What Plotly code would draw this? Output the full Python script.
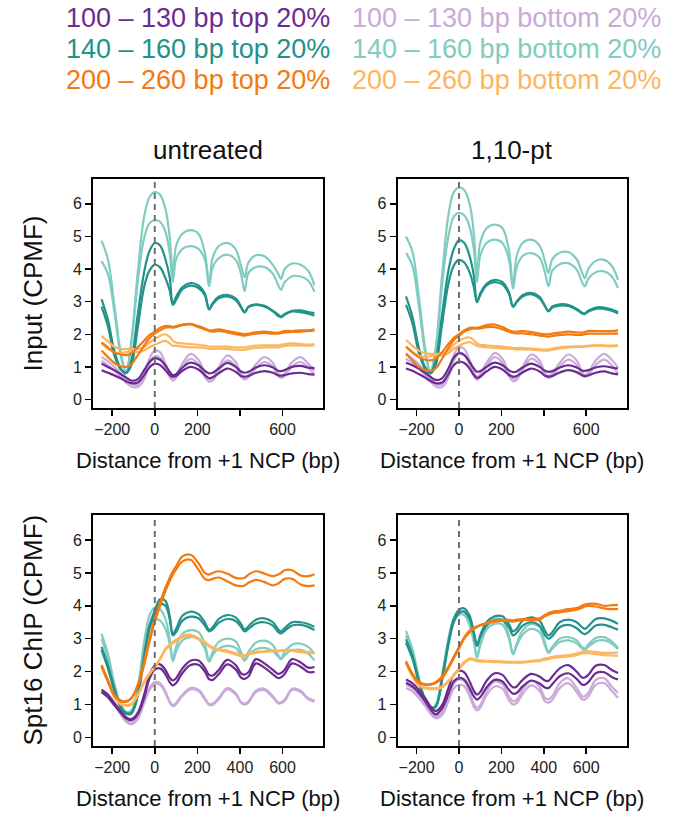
import plotly.graph_objects as go

# common x grid (bp from +1 NCP)
X = [-250, -220, -190, -160, -135, -110, -80, -50, -25, 0, 25, 50, 70, 85, 100, 130, 168, 205, 235, 255,
     272, 300, 340, 380, 405, 422, 440, 475, 515, 555, 580, 593, 610, 645, 685, 720, 750]

SERIES = ["100 – 130 bp top 20%", "100 – 130 bp bottom 20%",
          "140 – 160 bp top 20%", "140 – 160 bp bottom 20%",
          "200 – 260 bp top 20%", "200 – 260 bp bottom 20%"]
COLORS = ["#6B2C91", "#C9AAD8", "#22928A", "#80CCC0", "#F27A10", "#FDB660"]

# ---------------- Input, untreated (top-left) ----------------
TL_T100_1 = [1.1,1.0,0.9,0.78,0.68,0.58,0.62,0.9,1.15,1.27,1.22,1.05,0.85,0.75,0.78,0.98,1.13,1.05,0.88,0.8,0.82,0.95,1.12,1.0,0.86,0.82,0.85,0.98,1.05,0.98,0.88,0.87,0.9,1.0,1.03,0.98,0.96]
TL_T100_2 = [0.9,0.82,0.74,0.65,0.56,0.5,0.52,0.75,0.98,1.1,1.06,0.9,0.75,0.7,0.72,0.88,1.0,0.92,0.75,0.66,0.68,0.8,0.95,0.85,0.72,0.7,0.72,0.82,0.87,0.82,0.74,0.73,0.75,0.8,0.82,0.78,0.76]
TL_B100_1 = [1.3,1.18,1.0,0.8,0.62,0.48,0.45,0.75,1.25,1.5,1.45,1.1,0.8,0.66,0.75,1.1,1.4,1.22,0.8,0.6,0.65,0.98,1.35,1.15,0.78,0.68,0.75,1.08,1.3,1.12,0.8,0.72,0.8,1.15,1.3,1.1,0.88]
TL_B100_2 = [1.18,1.05,0.88,0.7,0.52,0.4,0.38,0.62,1.08,1.33,1.28,0.98,0.7,0.58,0.66,0.98,1.25,1.08,0.7,0.55,0.58,0.88,1.2,1.02,0.7,0.62,0.68,0.96,1.15,1.0,0.72,0.66,0.72,1.02,1.15,0.98,0.76]
TL_T140_1 = [3.08,2.45,1.5,0.95,0.8,1.2,2.6,3.9,4.55,4.8,4.72,4.3,3.75,2.95,3.15,3.45,3.57,3.5,3.25,2.78,2.95,3.15,3.21,3.1,2.85,2.68,2.85,2.92,2.87,2.72,2.6,2.54,2.62,2.72,2.73,2.68,2.65]
TL_T140_2 = [2.85,2.25,1.35,0.92,0.82,1.05,2.2,3.45,3.95,4.13,4.05,3.72,3.35,2.9,3.05,3.38,3.49,3.42,3.2,2.76,2.92,3.1,3.16,3.05,2.82,2.67,2.83,2.9,2.85,2.7,2.56,2.52,2.6,2.7,2.68,2.63,2.57]
TL_B140_1 = [4.87,4.3,2.9,1.45,0.85,1.8,3.9,5.6,6.2,6.36,6.28,5.85,5.0,3.85,4.7,5.08,5.19,5.08,4.5,3.6,4.35,4.7,4.8,4.6,4.1,3.75,4.2,4.42,4.39,4.12,3.85,3.7,4.0,4.17,4.13,3.95,3.5]
TL_B140_2 = [4.24,3.85,2.7,1.35,0.82,1.7,3.6,4.95,5.4,5.5,5.45,5.15,4.5,3.6,4.3,4.62,4.7,4.62,4.3,3.47,4.05,4.33,4.44,4.28,3.85,3.32,3.88,4.06,4.06,3.85,3.5,3.36,3.6,3.78,3.77,3.65,3.3]
TL_T200_1 = [1.75,1.6,1.45,1.38,1.36,1.42,1.6,1.8,1.98,2.08,2.2,2.25,2.25,2.22,2.25,2.3,2.32,2.25,2.18,2.12,2.12,2.15,2.1,2.05,2.02,2.0,2.02,2.06,2.08,2.05,2.05,2.07,2.1,2.1,2.12,2.12,2.15]
TL_T200_2 = [1.5,1.3,1.12,1.02,1.0,1.08,1.35,1.65,1.88,2.02,2.12,2.2,2.22,2.2,2.22,2.28,2.3,2.22,2.15,2.1,2.08,2.1,2.06,2.0,1.97,1.96,1.98,2.02,2.04,2.02,2.02,2.04,2.06,2.07,2.08,2.1,2.12]
TL_B200_1 = [1.95,1.78,1.62,1.55,1.55,1.55,1.55,1.6,1.75,1.85,1.95,2.0,1.92,1.8,1.75,1.72,1.7,1.68,1.65,1.62,1.62,1.62,1.62,1.6,1.6,1.6,1.62,1.65,1.66,1.66,1.66,1.68,1.7,1.72,1.7,1.68,1.7]
TL_B200_2 = [1.72,1.55,1.45,1.42,1.45,1.5,1.45,1.5,1.6,1.68,1.75,1.8,1.72,1.65,1.65,1.62,1.6,1.6,1.58,1.55,1.55,1.56,1.55,1.53,1.52,1.52,1.55,1.58,1.6,1.6,1.6,1.62,1.64,1.66,1.66,1.65,1.67]

# ---------------- Input, 1,10-pt (top-right) ----------------
TR_T100_1 = [1.13,1.05,0.95,0.82,0.7,0.6,0.65,0.95,1.28,1.42,1.36,1.15,0.95,0.85,0.87,1.0,1.13,1.05,0.9,0.84,0.86,0.98,1.1,1.0,0.88,0.85,0.87,0.98,1.05,0.98,0.89,0.88,0.9,0.98,1.02,0.98,0.95]
TR_T100_2 = [0.95,0.88,0.78,0.67,0.57,0.5,0.52,0.78,1.05,1.16,1.12,0.95,0.75,0.66,0.7,0.86,1.0,0.92,0.76,0.7,0.72,0.83,0.95,0.86,0.73,0.7,0.72,0.83,0.9,0.84,0.74,0.72,0.74,0.82,0.86,0.8,0.77]
TR_B100_1 = [1.38,1.25,1.08,0.85,0.65,0.48,0.45,0.8,1.35,1.6,1.55,1.2,0.85,0.7,0.78,1.12,1.42,1.25,0.82,0.64,0.68,1.0,1.38,1.2,0.82,0.72,0.8,1.12,1.38,1.2,0.85,0.76,0.82,1.2,1.4,1.22,0.98]
TR_B100_2 = [1.25,1.12,0.95,0.75,0.56,0.4,0.38,0.68,1.18,1.42,1.38,1.05,0.74,0.6,0.68,1.0,1.3,1.12,0.72,0.56,0.6,0.9,1.25,1.08,0.74,0.66,0.72,1.0,1.22,1.06,0.76,0.7,0.75,1.06,1.22,1.05,0.78]
TR_T140_1 = [3.16,2.55,1.6,1.0,0.82,1.2,2.6,3.95,4.6,4.88,4.8,4.4,3.8,3.0,3.25,3.55,3.67,3.6,3.3,2.86,3.0,3.2,3.27,3.15,2.88,2.72,2.85,2.92,2.9,2.78,2.66,2.64,2.72,2.82,2.82,2.76,2.68]
TR_T140_2 = [2.9,2.35,1.45,0.95,0.8,1.05,2.3,3.55,4.1,4.28,4.2,3.9,3.45,2.98,3.2,3.5,3.6,3.53,3.25,2.84,2.98,3.16,3.23,3.1,2.86,2.7,2.82,2.88,2.87,2.75,2.64,2.62,2.7,2.78,2.78,2.72,2.64]
TR_B140_1 = [5.0,4.55,3.2,1.6,0.85,1.6,3.8,5.65,6.35,6.5,6.42,6.0,5.1,3.8,4.8,5.25,5.36,5.25,4.6,3.5,4.4,4.8,4.9,4.72,4.25,3.88,4.3,4.5,4.52,4.3,3.9,3.72,4.0,4.25,4.28,4.1,3.67]
TR_B140_2 = [4.5,4.1,2.9,1.45,0.82,1.5,3.5,5.0,5.6,5.72,5.65,5.3,4.6,3.6,4.4,4.8,4.9,4.8,4.3,3.4,4.05,4.4,4.49,4.35,3.9,3.47,3.95,4.15,4.18,3.98,3.6,3.47,3.7,3.9,3.93,3.78,3.42]
TR_T200_1 = [1.62,1.45,1.3,1.22,1.2,1.25,1.45,1.7,1.88,2.0,2.12,2.2,2.2,2.2,2.22,2.28,2.3,2.22,2.12,2.08,2.08,2.1,2.07,2.02,2.0,2.0,2.02,2.05,2.08,2.06,2.05,2.07,2.1,2.1,2.1,2.1,2.12]
TR_T200_2 = [1.42,1.2,1.0,0.9,0.88,0.95,1.25,1.58,1.82,1.95,2.08,2.15,2.18,2.17,2.18,2.22,2.22,2.15,2.08,2.04,2.03,2.03,2.0,1.96,1.94,1.93,1.95,1.98,2.0,1.98,1.98,2.0,2.02,2.02,2.02,2.02,2.02]
TR_B200_1 = [1.83,1.65,1.5,1.42,1.4,1.4,1.42,1.5,1.68,1.8,1.88,1.9,1.82,1.72,1.68,1.66,1.64,1.62,1.6,1.58,1.58,1.58,1.56,1.54,1.53,1.53,1.56,1.6,1.62,1.63,1.63,1.64,1.65,1.67,1.66,1.65,1.67]
TR_B200_2 = [1.62,1.45,1.35,1.3,1.32,1.35,1.35,1.42,1.55,1.65,1.72,1.76,1.7,1.64,1.62,1.6,1.58,1.57,1.56,1.55,1.54,1.54,1.53,1.51,1.5,1.5,1.53,1.57,1.6,1.61,1.61,1.62,1.63,1.65,1.64,1.63,1.65]

# ---------------- Spt16 ChIP, untreated (bottom-left) ----------------
BL_T100_1 = [1.45,1.3,1.05,0.8,0.62,0.56,0.75,1.3,1.9,2.18,2.22,2.05,1.82,1.73,1.8,2.1,2.33,2.34,2.12,1.9,1.88,2.05,2.36,2.2,1.95,1.91,1.98,2.38,2.25,2.05,1.93,1.96,2.06,2.38,2.28,2.12,2.14]
BL_T100_2 = [1.38,1.22,0.98,0.75,0.58,0.52,0.7,1.2,1.78,2.06,2.1,1.92,1.68,1.58,1.65,1.96,2.2,2.21,2.0,1.77,1.75,1.92,2.22,2.07,1.82,1.78,1.85,2.25,2.12,1.92,1.8,1.83,1.93,2.25,2.15,1.99,1.99]
BL_B100_1 = [1.43,1.3,1.05,0.75,0.52,0.43,0.6,1.1,1.5,1.68,1.65,1.4,1.1,0.98,1.05,1.3,1.5,1.45,1.2,1.02,1.02,1.2,1.5,1.35,1.08,1.03,1.1,1.42,1.48,1.25,1.06,1.07,1.15,1.48,1.42,1.2,1.12]
BL_B100_2 = [1.4,1.26,1.0,0.7,0.48,0.4,0.56,1.04,1.44,1.62,1.6,1.35,1.06,0.95,1.01,1.26,1.46,1.41,1.16,0.99,0.99,1.16,1.46,1.31,1.05,1.0,1.06,1.38,1.44,1.21,1.03,1.04,1.11,1.44,1.38,1.16,1.09]
BL_T140_1 = [2.75,2.2,1.5,0.95,0.75,0.75,1.3,2.5,3.4,3.85,4.2,4.15,3.7,3.15,3.3,3.7,3.82,3.75,3.5,3.27,3.35,3.6,3.72,3.65,3.45,3.28,3.38,3.58,3.62,3.5,3.28,3.22,3.32,3.5,3.5,3.45,3.36]
BL_T140_2 = [2.65,2.1,1.42,0.9,0.72,0.72,1.25,2.4,3.3,3.75,4.05,4.0,3.6,3.1,3.2,3.55,3.67,3.62,3.4,3.22,3.28,3.48,3.6,3.54,3.36,3.22,3.3,3.46,3.5,3.4,3.2,3.16,3.24,3.4,3.42,3.36,3.26]
BL_B140_1 = [3.15,2.55,1.65,1.0,0.78,0.82,1.5,2.9,3.7,3.95,3.9,3.6,3.0,2.38,2.75,3.15,3.26,3.2,2.85,2.35,2.6,2.9,3.0,2.92,2.6,2.36,2.6,2.88,2.94,2.8,2.5,2.4,2.6,2.82,2.85,2.75,2.55]
BL_B140_2 = [3.0,2.4,1.55,0.95,0.75,0.8,1.4,2.7,3.4,3.6,3.55,3.3,2.85,2.32,2.6,2.95,3.05,3.0,2.7,2.3,2.5,2.7,2.78,2.72,2.5,2.33,2.5,2.68,2.72,2.62,2.45,2.38,2.5,2.65,2.66,2.55,2.34]
BL_T200_1 = [2.2,1.75,1.3,1.12,1.1,1.2,1.6,2.3,3.0,3.6,4.1,4.55,4.85,5.05,5.2,5.5,5.55,5.3,5.0,4.95,5.0,5.05,4.98,4.85,4.83,4.85,4.95,5.05,4.98,4.9,4.95,5.0,5.08,5.08,4.92,4.9,4.96]
BL_T200_2 = [2.15,1.7,1.28,1.1,1.08,1.18,1.55,2.2,2.9,3.5,4.0,4.45,4.75,4.95,5.1,5.35,5.4,5.1,4.82,4.78,4.82,4.86,4.75,4.62,4.6,4.62,4.7,4.79,4.72,4.62,4.68,4.74,4.82,4.82,4.65,4.6,4.62]
BL_B200_1 = [2.2,1.72,1.25,1.02,0.98,1.02,1.3,1.7,1.95,2.15,2.4,2.7,2.82,2.9,2.97,3.08,3.12,3.02,2.9,2.8,2.74,2.68,2.64,2.56,2.5,2.5,2.55,2.6,2.62,2.65,2.64,2.65,2.66,2.66,2.62,2.6,2.58]
BL_B200_2 = [2.17,1.7,1.22,1.0,0.96,1.0,1.27,1.66,1.92,2.12,2.37,2.66,2.78,2.86,2.93,3.04,3.08,2.99,2.87,2.77,2.71,2.65,2.6,2.52,2.47,2.47,2.52,2.57,2.6,2.62,2.62,2.63,2.64,2.63,2.59,2.57,2.55]

# ---------------- Spt16 ChIP, 1,10-pt (bottom-right) ----------------
BR_T100_1 = [1.76,1.65,1.45,1.2,0.95,0.8,0.98,1.5,1.9,2.03,1.98,1.7,1.42,1.3,1.38,1.72,1.95,1.9,1.65,1.52,1.55,1.75,1.93,1.85,1.73,1.72,1.85,2.1,2.2,2.0,1.82,1.82,1.9,2.18,2.2,2.05,1.96]
BR_T100_2 = [1.66,1.55,1.36,1.1,0.86,0.7,0.88,1.32,1.7,1.81,1.76,1.5,1.25,1.15,1.22,1.52,1.75,1.7,1.45,1.33,1.35,1.55,1.73,1.64,1.52,1.5,1.62,1.86,1.95,1.78,1.61,1.6,1.68,1.95,1.98,1.84,1.76]
BR_B100_1 = [1.6,1.5,1.3,1.05,0.8,0.64,0.75,1.2,1.62,1.76,1.7,1.38,1.02,0.9,0.98,1.4,1.7,1.62,1.25,1.1,1.14,1.45,1.72,1.55,1.2,1.16,1.25,1.65,1.8,1.5,1.26,1.25,1.35,1.75,1.8,1.55,1.35]
BR_B100_2 = [1.5,1.4,1.2,0.96,0.73,0.58,0.68,1.1,1.48,1.6,1.55,1.25,0.93,0.82,0.9,1.28,1.55,1.48,1.14,1.0,1.04,1.32,1.58,1.42,1.1,1.06,1.14,1.5,1.65,1.38,1.16,1.15,1.24,1.6,1.65,1.42,1.2]
BR_T140_1 = [2.98,2.5,1.75,1.15,0.92,0.95,1.8,2.9,3.6,3.88,3.92,3.7,3.2,2.8,3.1,3.5,3.68,3.68,3.45,3.22,3.3,3.55,3.65,3.55,3.25,3.1,3.2,3.5,3.58,3.5,3.35,3.3,3.38,3.6,3.62,3.55,3.45]
BR_T140_2 = [2.88,2.4,1.68,1.1,0.9,0.92,1.72,2.8,3.5,3.78,3.82,3.6,3.15,2.78,3.05,3.4,3.56,3.56,3.35,3.1,3.18,3.4,3.5,3.4,3.12,3.0,3.08,3.35,3.42,3.32,3.18,3.14,3.2,3.4,3.42,3.35,3.27]
BR_B140_1 = [3.24,2.7,1.85,1.15,0.88,0.98,1.9,3.0,3.6,3.83,3.82,3.5,2.95,2.45,2.85,3.4,3.6,3.58,3.1,2.55,2.85,3.25,3.45,3.35,2.9,2.6,2.75,3.0,3.05,2.95,2.75,2.7,2.82,3.02,3.05,2.92,2.72]
BR_B140_2 = [3.09,2.6,1.78,1.1,0.85,0.95,1.8,2.9,3.5,3.73,3.72,3.4,2.9,2.42,2.78,3.28,3.45,3.43,3.0,2.52,2.78,3.12,3.3,3.2,2.8,2.57,2.7,2.9,2.95,2.86,2.7,2.66,2.76,2.92,2.95,2.85,2.68]
BR_T200_1 = [2.32,1.95,1.7,1.62,1.62,1.68,1.85,2.15,2.45,2.75,3.05,3.25,3.33,3.38,3.42,3.48,3.55,3.58,3.57,3.56,3.58,3.6,3.6,3.62,3.72,3.78,3.82,3.85,3.9,3.93,4.0,4.04,4.06,4.06,4.0,4.02,4.03]
BR_T200_2 = [2.28,1.9,1.66,1.6,1.6,1.65,1.8,2.1,2.4,2.7,3.0,3.2,3.3,3.35,3.4,3.46,3.52,3.54,3.54,3.52,3.54,3.57,3.56,3.58,3.68,3.73,3.77,3.8,3.84,3.88,3.94,3.98,4.0,3.98,3.92,3.9,3.9]
BR_B200_1 = [2.3,1.9,1.62,1.52,1.5,1.5,1.55,1.72,1.9,2.1,2.3,2.4,2.38,2.35,2.34,2.33,2.32,2.31,2.3,2.3,2.3,2.3,2.33,2.35,2.4,2.42,2.45,2.48,2.5,2.55,2.6,2.62,2.62,2.6,2.57,2.57,2.58]
BR_B200_2 = [2.26,1.86,1.58,1.49,1.47,1.47,1.52,1.69,1.87,2.06,2.26,2.36,2.35,2.32,2.31,2.3,2.29,2.28,2.27,2.27,2.27,2.27,2.3,2.32,2.36,2.38,2.41,2.44,2.46,2.5,2.55,2.56,2.56,2.53,2.5,2.49,2.48]

X_TICKS = [-200, 0, 200, 400, 600]
X_TICKTEXT_TOP = ["−200", "0", "200", "", "600"]
X_TICKTEXT_BOTTOM = ["−200", "0", "200", "400", "600"]
Y_TICKS = [0, 1, 2, 3, 4, 5, 6]
COL_TITLES = ["untreated", "1,10-pt"]
ROW_TITLES = ["Input (CPMF)", "Spt16 ChIP (CPMF)"]
X_TITLE = "Distance from +1 NCP (bp)"

PANELS = [
    [(TL_T100_1, TL_T100_2), (TL_B100_1, TL_B100_2), (TL_T140_1, TL_T140_2),
     (TL_B140_1, TL_B140_2), (TL_T200_1, TL_T200_2), (TL_B200_1, TL_B200_2)],
    [(TR_T100_1, TR_T100_2), (TR_B100_1, TR_B100_2), (TR_T140_1, TR_T140_2),
     (TR_B140_1, TR_B140_2), (TR_T200_1, TR_T200_2), (TR_B200_1, TR_B200_2)],
    [(BL_T100_1, BL_T100_2), (BL_B100_1, BL_B100_2), (BL_T140_1, BL_T140_2),
     (BL_B140_1, BL_B140_2), (BL_T200_1, BL_T200_2), (BL_B200_1, BL_B200_2)],
    [(BR_T100_1, BR_T100_2), (BR_B100_1, BR_B100_2), (BR_T140_1, BR_T140_2),
     (BR_B140_1, BR_B140_2), (BR_T200_1, BR_T200_2), (BR_B200_1, BR_B200_2)],
]

W, H = 680, 813
FONT = "Liberation Sans, Arial, Helvetica, sans-serif"

# panel boxes in pixels: (left, right, top, bottom)
BOXES = [(93, 323, 179, 408), (397.5, 626.5, 179, 408),
         (93, 323, 515, 746), (397.5, 626.5, 515, 746)]
DRAW_ORDER = [3, 2, 1, 0, 5, 4]

fig = go.Figure()
for p, (box, groups) in enumerate(zip(BOXES, PANELS)):
    ax = "" if p == 0 else str(p + 1)
    for gi in DRAW_ORDER:
        for rep in groups[gi]:
            if len(rep) != len(X):
                raise ValueError(f"length mismatch panel {p} group {gi}: {len(rep)}")
            fig.add_trace(go.Scatter(
                x=X, y=rep, mode="lines", xaxis="x" + ax, yaxis="y" + ax,
                line=dict(color=COLORS[gi], width=2.2, shape="spline", smoothing=1.0),
                showlegend=False, hoverinfo="skip"))
    l, r, t, b = box
    xd = [l / W, r / W]
    yd = [1 - b / H, 1 - t / H]
    common = dict(showline=True, mirror=True, linecolor="black", linewidth=2,
                  ticks="outside", ticklen=6, tickwidth=1.5, tickcolor="black",
                  showgrid=False, zeroline=False,
                  tickfont=dict(family=FONT, size=16, color="#222"))
    fig.layout["xaxis" + ax] = dict(domain=xd, range=[-290, 790], anchor="y" + ax,
                                    tickvals=X_TICKS,
                                    ticktext=X_TICKTEXT_TOP if p < 2 else X_TICKTEXT_BOTTOM,
                                    **common)
    fig.layout["yaxis" + ax] = dict(domain=yd, range=[-0.26, 6.76], anchor="x" + ax,
                                    tickvals=Y_TICKS, **common)
    fig.add_shape(type="line", xref="x" + ax, yref="y" + ax + " domain",
                  x0=0, x1=0, y0=0, y1=1, layer="above",
                  line=dict(color="#6E6E6E", width=2, dash="6px,5px"))
    # x-axis title
    fig.add_annotation(text=X_TITLE, xref="paper", yref="paper",
                       x=(l + r) / 2 / W, y=1 - (b + 52) / H, showarrow=False,
                       xanchor="center", yanchor="middle",
                       font=dict(family=FONT, size=22, color="#111"))

for i, txt in enumerate(COL_TITLES):
    l, r, t, b = BOXES[i]
    fig.add_annotation(text=txt, xref="paper", yref="paper", x=(l + r) / 2 / W, y=1 - 150 / H,
                       showarrow=False, xanchor="center", yanchor="middle",
                       font=dict(family=FONT, size=26, color="#111"))
for i, txt in enumerate(ROW_TITLES):
    l, r, t, b = BOXES[2 * i]
    fig.add_annotation(text=txt, xref="paper", yref="paper", x=32 / W, y=1 - (t + b) / 2 / H,
                       showarrow=False, xanchor="center", yanchor="middle", textangle=-90,
                       font=dict(family=FONT, size=26, color="#111"))

# legend text block
LEG_ROWS_Y = [18, 49, 80]
LEG_COLS_X = [64, 350]
for k, name in enumerate(SERIES):
    row, col = k // 2, k % 2
    fig.add_annotation(text=name, xref="paper", yref="paper",
                       x=LEG_COLS_X[col] / W, y=1 - LEG_ROWS_Y[row] / H,
                       showarrow=False, xanchor="left", yanchor="middle",
                       font=dict(family=FONT, size=27, color=COLORS[k]))

fig.update_layout(width=W, height=H, margin=dict(l=0, r=0, t=0, b=0),
                  paper_bgcolor="white", plot_bgcolor="white", showlegend=False)
fig.write_html("out.html", config={"displayModeBar": False, "staticPlot": True},
               post_script="document.body.style.margin='0';document.body.style.padding='0';"
                           "document.documentElement.style.overflow='hidden';")
